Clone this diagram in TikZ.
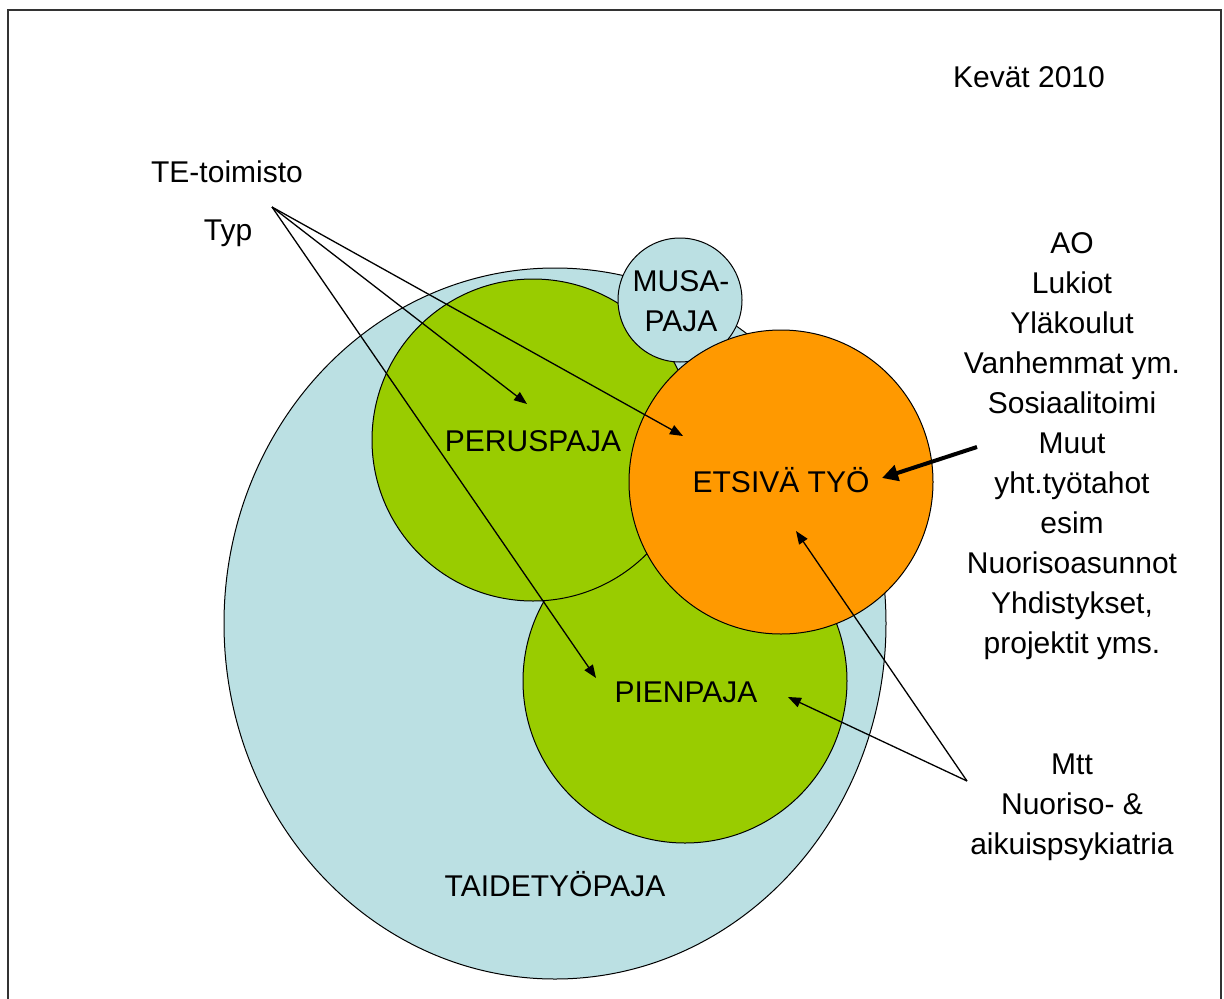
\documentclass[tikz,border=0pt]{standalone}
\usepackage{fontspec}
\setmainfont{Liberation Sans}
\usetikzlibrary{arrows.meta}
\definecolor{lblue}{HTML}{BBE0E3}
\definecolor{lgreen}{HTML}{99CC00}
\definecolor{orng}{HTML}{FF9900}
\tikzset{
  lbl/.style={font=\fontsize{30}{40}\selectfont, inner sep=0pt, align=center},
  disc/.style={draw=black, line width=1pt},
  conn/.style={draw=black, line width=1.3pt, -{Triangle[length=13pt,width=10pt]}},
  bigconn/.style={draw=black, line width=4pt, -{Triangle[length=16pt,width=16pt]}}
}
\begin{document}
\begin{tikzpicture}[x=1pt,y=-1pt]
\useasboundingbox (0,0) rectangle (1224,999);
\fill[white] (0,0) rectangle (1224,999);
% frame
\draw[line width=2pt, color=black!80] (8,1010) -- (8,10) -- (1221,10) -- (1221,1010);
% circles
\path[disc, fill=lblue] (555,623.5) ellipse [x radius=331pt, y radius=355.5pt];
\path[disc, fill=lgreen] (685,681) circle [radius=162pt];
\path[disc, fill=lgreen] (533,440) circle [radius=161pt];
\path[disc, fill=lblue] (680,300) circle [radius=62pt];
\path[disc, fill=orng] (781,482) circle [radius=152pt];
% labels
\node[lbl] (kevat) at (1029,77) {Kevät 2010};
\node[lbl] (te) at (227,172) {TE-toimisto};
\node[lbl] (typ) at (228,233) {Typ};
\node[lbl] (musa) at (681,301) {MUSA-\\PAJA};
\node[lbl] (perus) at (533,441) {PERUSPAJA};
\node[lbl] (etsiva) at (781,480) {ETSIVÄ TYÖ};
\node[lbl] (pien) at (686,692) {PIENPAJA};
\node[lbl] (taide) at (555,884) {TAIDETYÖPAJA};
\node[lbl] (tahot) at (1072,446) {AO\\Lukiot\\Yläkoulut\\Vanhemmat ym.\\Sosiaalitoimi\\Muut\\yht.työtahot\\esim\\Nuorisoasunnot\\Yhdistykset,\\projektit yms.};
\node[lbl] (mtt) at (1072,807) {Mtt\\Nuoriso- \&\\aikuispsykiatria};
% connector points
\coordinate (o1) at (272,207);
\coordinate (o2) at (967,781);
\coordinate (o3) at (977,447);
\coordinate (tPerus) at (527,404);
\coordinate (tEts1) at (683,436);
\coordinate (tPien1) at (596,678);
\coordinate (tEts2) at (796,531);
\coordinate (tPien2) at (788,697);
\coordinate (tEts3) at (882,478);
% connectors
\draw[conn] (o1) -- (tPerus);
\draw[conn] (o1) -- (tEts1);
\draw[conn] (o1) -- (tPien1);
\draw[conn] (o2) -- (tEts2);
\draw[conn] (o2) -- (tPien2);
\draw[bigconn] (o3) -- (tEts3);
\end{tikzpicture}
\end{document}
